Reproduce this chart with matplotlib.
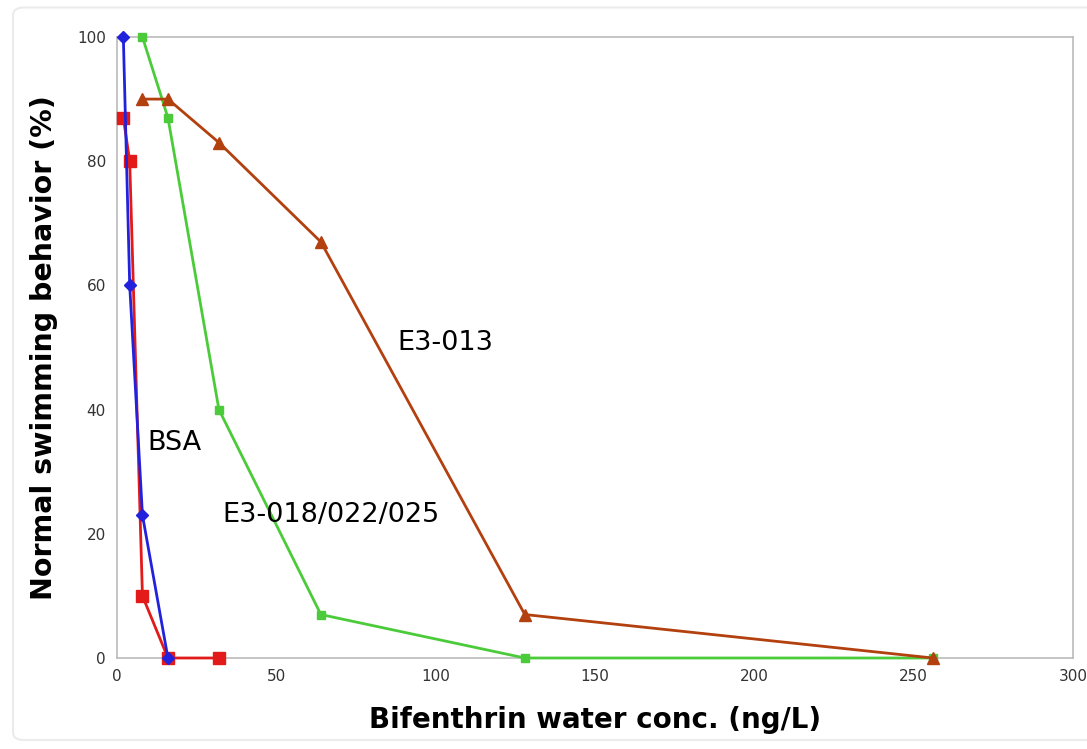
import matplotlib
matplotlib.use("Agg")
import matplotlib.pyplot as plt
from matplotlib.patches import FancyBboxPatch

# Bifenthrin water concentration (ng/L) and % normal swimming
bsa_x = [2, 4, 8, 16]
bsa_y = [100, 60, 23, 0]

red_x = [2, 4, 8, 16, 32]
red_y = [87, 80, 10, 0, 0]

e3_018_x = [8, 16, 32, 64, 128, 256]
e3_018_y = [100, 87, 40, 7, 0, 0]

e3_013_x = [8, 16, 32, 64, 128, 256]
e3_013_y = [90, 90, 83, 67, 7, 0]

fig = plt.figure(figsize=(10.87, 7.49), dpi=100)

# faint outer frame of the original chart box
fig.patches.append(FancyBboxPatch((0.012, 0.012), 1.2, 0.978,
                                  boxstyle='round,pad=0,rounding_size=0.01',
                                  transform=fig.transFigure, fill=False,
                                  edgecolor='#ebebeb', linewidth=1.5))

ax = fig.add_axes([0.1076, 0.1215, 0.8794, 0.8291])

ax.plot(e3_018_x, e3_018_y, color='#4ccb3a', marker='s', markersize=5.5,
        linewidth=2, clip_on=False, zorder=3)
ax.plot(e3_013_x, e3_013_y, color='#b3400f', marker='^', markersize=8,
        linewidth=2, clip_on=False, zorder=4)
ax.plot(red_x, red_y, color='#e21a1a', marker='s', markersize=8,
        linewidth=2, clip_on=False, zorder=5)
ax.plot(bsa_x, bsa_y, color='#2222dd', marker='D', markersize=6,
        linewidth=2, clip_on=False, zorder=6)

ax.text(88, 50.7, 'E3-013', fontsize=19.5, va='center', ha='left')
ax.text(9.7, 34.6, 'BSA', fontsize=19.5, va='center', ha='left')
ax.text(33, 23, 'E3-018/022/025', fontsize=19.5, va='center', ha='left')

ax.set_xlim(0, 300)
ax.set_ylim(0, 100)
ax.set_xticks([0, 50, 100, 150, 200, 250, 300])
ax.set_yticks([0, 20, 40, 60, 80, 100])
ax.tick_params(length=0, labelsize=11, colors='#333333', pad=8)

for s in ax.spines.values():
    s.set_color('#bbbbbb')
    s.set_linewidth(1.2)

ax.set_xlabel('Bifenthrin water conc. (ng/L)', fontsize=20, fontweight='bold',
              labelpad=16)
ax.set_ylabel('Normal swimming behavior (%)', fontsize=20.5, fontweight='bold',
              labelpad=14)

fig.savefig('out.png', dpi=100)
